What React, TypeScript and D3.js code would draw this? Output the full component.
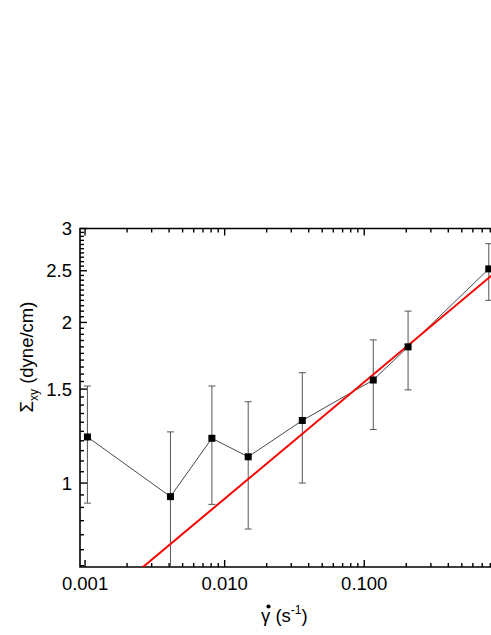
import React, { useEffect, useRef } from "react";
import * as d3 from "d3";

// shear rate (1/s) and stress (dyne/cm)
const rates = [0.00104, 0.00409, 0.0081, 0.01475, 0.036, 0.116, 0.206, 0.78];
const stress = [1.22, 0.943, 1.213, 1.12, 1.31, 1.56, 1.8, 2.52];
const errHigh = [1.52, 1.247, 1.52, 1.42, 1.61, 1.855, 2.1, 2.81];
const errLow = [0.917, 0.6, 0.912, 0.82, 1.0, 1.26, 1.495, 2.2];

// power-law fit line end points
const fitX = [0.0025, 0.85];
const fitY = [0.69, 2.47];

const xMajor = [0.001, 0.01, 0.1, 1];
const xLabels = ["0.001", "0.010", "0.100", "1.000"];
const yMajor = [1, 1.5, 2, 2.5, 3];
const yLabels = ["1", "1.5", "2", "2.5", "3"];

export default function App() {
  const ref = useRef<SVGSVGElement>(null);

  useEffect(() => {
    const width = 491;
    const height = 635;
    const m = { left: 80, top: 228.5, right: 494, bottom: 567 };
    const svg = d3.select(ref.current);
    svg.selectAll("*").remove();
    svg.attr("width", width).attr("height", height);

    const x = d3.scaleLog().domain([0.00092, 0.85]).range([m.left, m.right]);
    const y = d3.scaleLog().domain([0.696, 3]).range([m.bottom, m.top]);
    const font = "'Liberation Sans', Arial, sans-serif";

    svg
      .append("clipPath")
      .attr("id", "plot")
      .append("rect")
      .attr("x", m.left)
      .attr("y", m.top)
      .attr("width", m.right - m.left)
      .attr("height", m.bottom - m.top);

    // minor ticks
    const xMinor: number[] = [];
    [0.001, 0.01, 0.1].forEach((d) => {
      for (let k = 2; k <= 9; k++) xMinor.push(d * k);
    });
    const yMinor = d3.range(0.7, 3.0001, 0.05).filter((v) => Math.abs(v * 2 - Math.round(v * 2)) > 0.01);

    const ticks = svg.append("g").attr("stroke", "black").attr("stroke-width", 1.4);
    const xIn = (v: number) => v >= 0.00092 && v <= 0.85;
    xMinor.filter(xIn).forEach((v) => {
      ticks.append("line").attr("x1", x(v)).attr("x2", x(v)).attr("y1", m.bottom).attr("y2", m.bottom - 4);
      ticks.append("line").attr("x1", x(v)).attr("x2", x(v)).attr("y1", m.top).attr("y2", m.top + 4);
    });
    xMajor.filter(xIn).forEach((v) => {
      ticks.append("line").attr("x1", x(v)).attr("x2", x(v)).attr("y1", m.bottom).attr("y2", m.bottom - 7);
      ticks.append("line").attr("x1", x(v)).attr("x2", x(v)).attr("y1", m.top).attr("y2", m.top + 7);
    });
    yMinor.forEach((v) => {
      ticks.append("line").attr("x1", m.left).attr("x2", m.left + 4).attr("y1", y(v)).attr("y2", y(v));
    });
    yMajor.forEach((v) => {
      ticks.append("line").attr("x1", m.left).attr("x2", m.left + 7).attr("y1", y(v)).attr("y2", y(v));
    });

    // frame
    svg
      .append("path")
      .attr("d", `M${m.right},${m.top}H${m.left}V${m.bottom}H${m.right}`)
      .attr("fill", "none")
      .attr("stroke", "black")
      .attr("stroke-width", 1.6);

    // tick labels
    svg
      .append("g")
      .selectAll("text")
      .data(xMajor.filter(xIn))
      .enter()
      .append("text")
      .attr("x", (d) => x(d))
      .attr("y", 590)
      .attr("text-anchor", "middle")
      .style("font-family", font)
      .style("font-size", "18.5px")
      .text((d, i) => xLabels[i]);

    svg
      .append("g")
      .selectAll("text")
      .data(yMajor)
      .enter()
      .append("text")
      .attr("x", 72)
      .attr("y", (d) => y(d) + 6.5)
      .attr("text-anchor", "end")
      .style("font-family", font)
      .style("font-size", "18.5px")
      .text((d, i) => yLabels[i]);

    const plot = svg.append("g").attr("clip-path", "url(#plot)");

    // error bars
    rates.forEach((r, i) => {
      const g = plot.append("g").attr("stroke", "#555").attr("stroke-width", 1);
      g.append("line").attr("x1", x(r)).attr("x2", x(r)).attr("y1", y(errLow[i])).attr("y2", y(errHigh[i]));
      g.append("line").attr("x1", x(r) - 3.5).attr("x2", x(r) + 3.5).attr("y1", y(errLow[i])).attr("y2", y(errLow[i]));
      g.append("line").attr("x1", x(r) - 3.5).attr("x2", x(r) + 3.5).attr("y1", y(errHigh[i])).attr("y2", y(errHigh[i]));
    });

    // connecting line
    const line = d3
      .line<number>()
      .x((d) => x(d))
      .y((d, i) => y(stress[i]));
    plot
      .append("path")
      .attr("d", line(rates))
      .attr("fill", "none")
      .attr("stroke", "#333")
      .attr("stroke-width", 0.9);

    // fit
    plot
      .append("path")
      .attr("d", d3.line<number>().x((d) => x(d)).y((d, i) => y(fitY[i]))(fitX))
      .attr("fill", "none")
      .attr("stroke", "#ff0000")
      .attr("stroke-width", 2);

    // markers
    plot
      .selectAll("rect.pt")
      .data(rates)
      .enter()
      .append("rect")
      .attr("x", (d) => x(d) - 3.5)
      .attr("y", (d, i) => y(stress[i]) - 3.5)
      .attr("width", 7)
      .attr("height", 7)
      .attr("fill", "black");

    // axis titles
    const xt = svg
      .append("text")
      .attr("x", 261)
      .attr("y", 622)
      .style("font-family", font)
      .style("font-size", "18.5px");
    xt.append("tspan").text("γ");
    xt.append("tspan").text(" (s");
    xt.append("tspan").attr("dy", -8).style("font-size", "12px").text("-1");
    xt.append("tspan").attr("dy", 8).text(")");
    svg.append("circle").attr("cx", 268.5).attr("cy", 606.5).attr("r", 2.1).attr("fill", "black");

    const yt = svg
      .append("text")
      .attr("transform", "translate(33,357) rotate(-90)")
      .attr("text-anchor", "middle")
      .style("font-family", font)
      .style("font-size", "18.5px");
    yt.append("tspan").text("Σ");
    yt.append("tspan").attr("dy", 5).style("font-size", "12px").text("xy");
    yt.append("tspan").attr("dy", -5).text(" (dyne/cm)");
  }, []);

  return <svg ref={ref} style={{ position: "absolute", left: 0, top: 0 }} />;
}
